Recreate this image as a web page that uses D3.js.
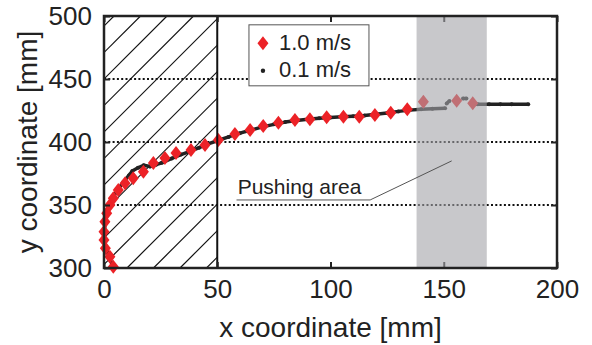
<!DOCTYPE html>
<html lang="en">
<head>
<meta charset="UTF-8">
<title>Pushing trajectory</title>
<script src="https://d3js.org/d3.v7.min.js"></script>
<style>
    body { margin: 0; padding: 0; background: #fff; }
    svg { display: block; font-family: "Liberation Sans", Arial, sans-serif; }
</style>
</head>
<body>
<svg id="chart" width="592" height="345"></svg>
<script>
// 1.0 m/s (red diamonds)
const redX = [4.1, 2.6, 0.6, 0, 0, 0.4, 1.2, 2.6, 4.1, 6.3, 9.3, 12.9, 17.4, 21.8, 26.9, 31.8, 38.4, 44.6, 50.5, 57.8, 64.5, 70.3, 77.0, 84.3, 90.9, 98.3, 105.7, 112.7, 119.6, 126.6, 133.9, 141.0, 155.7, 162.8];
const redY = [301.0, 309.0, 315.6, 322.2, 328.8, 336.7, 343.4, 350.0, 355.3, 361.9, 367.2, 371.2, 376.4, 383.3, 387.3, 391.3, 393.7, 397.6, 401.6, 406.3, 409.5, 412.7, 415.3, 417.5, 418.0, 419.6, 420.1, 420.1, 421.4, 423.3, 426.0, 432.0, 432.8, 430.7];

// 0.1 m/s (black dots, dense) - null = gap
const blackX = [4, 2.5, 1, 0.3, 0.2, 0.5, 1.2, 2.5, 4, 6, 8.5, 11, 12.5, 15, 17.5, 20.3, 23, 25.5, 29.9, 34, 38, 42, 46, 50, 55, 60, 65, 70, 75, 80, 85, 90, 95, 100, 105, 110, 115, 120, 125, 130, 135, 140, 145, 150.6, null, 151.3, 152.5, null, 158.5, 160, null, 162, 165, 170, 175, 180, 187.3];
const blackY = [301, 308, 315, 322, 329, 336, 343, 350, 356, 362, 368, 373.5, 377, 379.5, 381.5, 380.5, 382, 383.5, 387, 390, 392.5, 395.5, 398.5, 401, 404, 407, 409.5, 412, 414, 415.8, 417, 418, 418.8, 419.5, 420, 420.5, 421, 422, 423, 424.3, 425.3, 426, 426.3, 426.7, null, 430.5, 432.5, null, 434.5, 434.5, null, 430, 430, 430, 430, 430, 430];

const xTicks = [0, 50, 100, 150, 200];
const yTicks = [300, 350, 400, 450, 500];
const gridY = [350, 400, 450];
const hatchRange = [0, 50];
const pushRange = [138, 169];
const legendLabels = ["1.0 m/s", "0.1 m/s"];

const margin = { top: 16, right: 35, bottom: 77, left: 104 };
const svg = d3.select("#chart");
const width = 592 - margin.left - margin.right;
const height = 345 - margin.top - margin.bottom;

const x = d3.scaleLinear().domain([0, 200]).range([0, width]);
const y = d3.scaleLinear().domain([300, 500]).range([height, 0]);

const g = svg.append("g").attr("transform", `translate(${margin.left},${margin.top})`);

// clips
const defs = svg.append("defs");
defs.append("clipPath").attr("id", "plot-clip")
    .append("rect").attr("width", width).attr("height", height);
const hx0 = x(hatchRange[0]), hx1 = x(hatchRange[1]);
defs.append("clipPath").attr("id", "hatch-clip")
    .append("rect").attr("x", hx0).attr("width", hx1 - hx0).attr("height", height);

// hatched region (x 0..50), 45 degree lines
const hatchG = g.append("g").attr("clip-path", "url(#hatch-clip)");
const step = 26.5;
for (let k = -1; k < 20; k++) {
    const top = 10 + k * step;
    hatchG.append("line")
        .attr("x1", top).attr("y1", 0)
        .attr("x2", top - height).attr("y2", height)
        .attr("stroke", "#111").attr("stroke-width", 1.2);
}

// grid lines
g.selectAll(".grid").data(gridY).enter().append("line")
    .attr("class", "grid")
    .attr("x1", 0).attr("x2", width)
    .attr("y1", d => y(d)).attr("y2", d => y(d))
    .attr("stroke", "#111").attr("stroke-width", 2)
    .attr("stroke-dasharray", "2,2.3");

// data
const plot = g.append("g").attr("clip-path", "url(#plot-clip)");
const blackData = blackX.map((v, i) => ({ x: v, y: blackY[i] }));
const line = d3.line()
    .defined(d => d.x !== null && d.y !== null)
    .x(d => x(d.x)).y(d => y(d.y));
plot.append("path").datum(blackData)
    .attr("d", line)
    .attr("fill", "none").attr("stroke", "#222").attr("stroke-width", 3.5)
    .attr("stroke-linejoin", "round");
plot.selectAll(".bdot").data(blackData.filter(d => d.x !== null)).enter()
    .append("circle").attr("class", "bdot")
    .attr("cx", d => x(d.x)).attr("cy", d => y(d.y)).attr("r", 2)
    .attr("fill", "#222");

const diamond = "M0,-7L5.5,0L0,7L-5.5,0Z";
const redData = redX.map((v, i) => ({ x: v, y: redY[i] }));
g.selectAll(".rdot").data(redData).enter()
    .append("path").attr("class", "rdot")
    .attr("d", diamond)
    .attr("transform", d => `translate(${x(d.x)},${y(d.y)})`)
    .attr("fill", "#ec2227");

// vertical boundary at x=50
g.append("line")
    .attr("x1", hx1).attr("x2", hx1).attr("y1", 0).attr("y2", height)
    .attr("stroke", "#111").attr("stroke-width", 2);

// axes with inward ticks
const xAxis = g.append("g").attr("transform", `translate(0,${height})`)
    .call(d3.axisBottom(x).tickValues(xTicks).tickSizeInner(-6).tickSizeOuter(0).tickPadding(12));
const xTop = g.append("g")
    .call(d3.axisTop(x).tickValues(xTicks).tickSizeInner(-6).tickSizeOuter(0).tickFormat(""));
const yAxis = g.append("g")
    .call(d3.axisLeft(y).tickValues(yTicks).tickSizeInner(-6).tickSizeOuter(0).tickPadding(12));
const yRight = g.append("g").attr("transform", `translate(${width},0)`)
    .call(d3.axisRight(y).tickValues(yTicks).tickSizeInner(-6).tickSizeOuter(0).tickFormat(""));
[xAxis, xTop, yAxis, yRight].forEach(a => {
    a.select(".domain").remove();
    a.selectAll(".tick line").attr("stroke", "#222").attr("stroke-width", 2);
    a.selectAll("text").attr("font-size", 26).attr("fill", "#222")
        .attr("font-family", "'Liberation Sans', Arial, sans-serif");
});

// pushing area overlay
g.append("rect")
    .attr("x", x(pushRange[0])).attr("width", x(pushRange[1]) - x(pushRange[0]))
    .attr("y", 0).attr("height", height)
    .attr("fill", "#a3a3a8").attr("fill-opacity", 0.6);

// frame
g.append("rect").attr("width", width).attr("height", height)
    .attr("fill", "none").attr("stroke", "#222").attr("stroke-width", 2.5);

// annotation
g.append("text")
    .attr("x", x(59)).attr("y", y(358.7))
    .attr("font-size", 21).attr("fill", "#222")
    .text("Pushing area");
g.append("polyline")
    .attr("points", `${x(58.5)},${y(354)} ${x(117.5)},${y(354)} ${x(153.5)},${y(385)}`)
    .attr("fill", "none").attr("stroke", "#555").attr("stroke-width", 1);

// legend
const lg = g.append("g").attr("transform", `translate(${x(64)},${y(493)})`);
lg.append("rect").attr("width", 120).attr("height", 61)
    .attr("fill", "#fff").attr("stroke", "#555").attr("stroke-width", 1);
lg.append("path").attr("d", diamond).attr("transform", "translate(14,18.5)").attr("fill", "#ec2227");
lg.append("circle").attr("cx", 14).attr("cy", 46).attr("r", 2.2).attr("fill", "#222");
lg.selectAll(".ltext").data(legendLabels).enter().append("text")
    .attr("x", 30).attr("y", (d, i) => 25 + i * 27.5)
    .attr("font-size", 22).attr("fill", "#222")
    .text(d => d);

// axis titles
svg.append("text")
    .attr("x", margin.left + width / 2).attr("y", 337)
    .attr("text-anchor", "middle").attr("font-size", 28).attr("fill", "#222")
    .text("x coordinate [mm]");
svg.append("text")
    .attr("transform", `translate(37,${margin.top + height / 2}) rotate(-90)`)
    .attr("text-anchor", "middle").attr("font-size", 28).attr("fill", "#222")
    .text("y coordinate [mm]");
</script>
</body>
</html>
